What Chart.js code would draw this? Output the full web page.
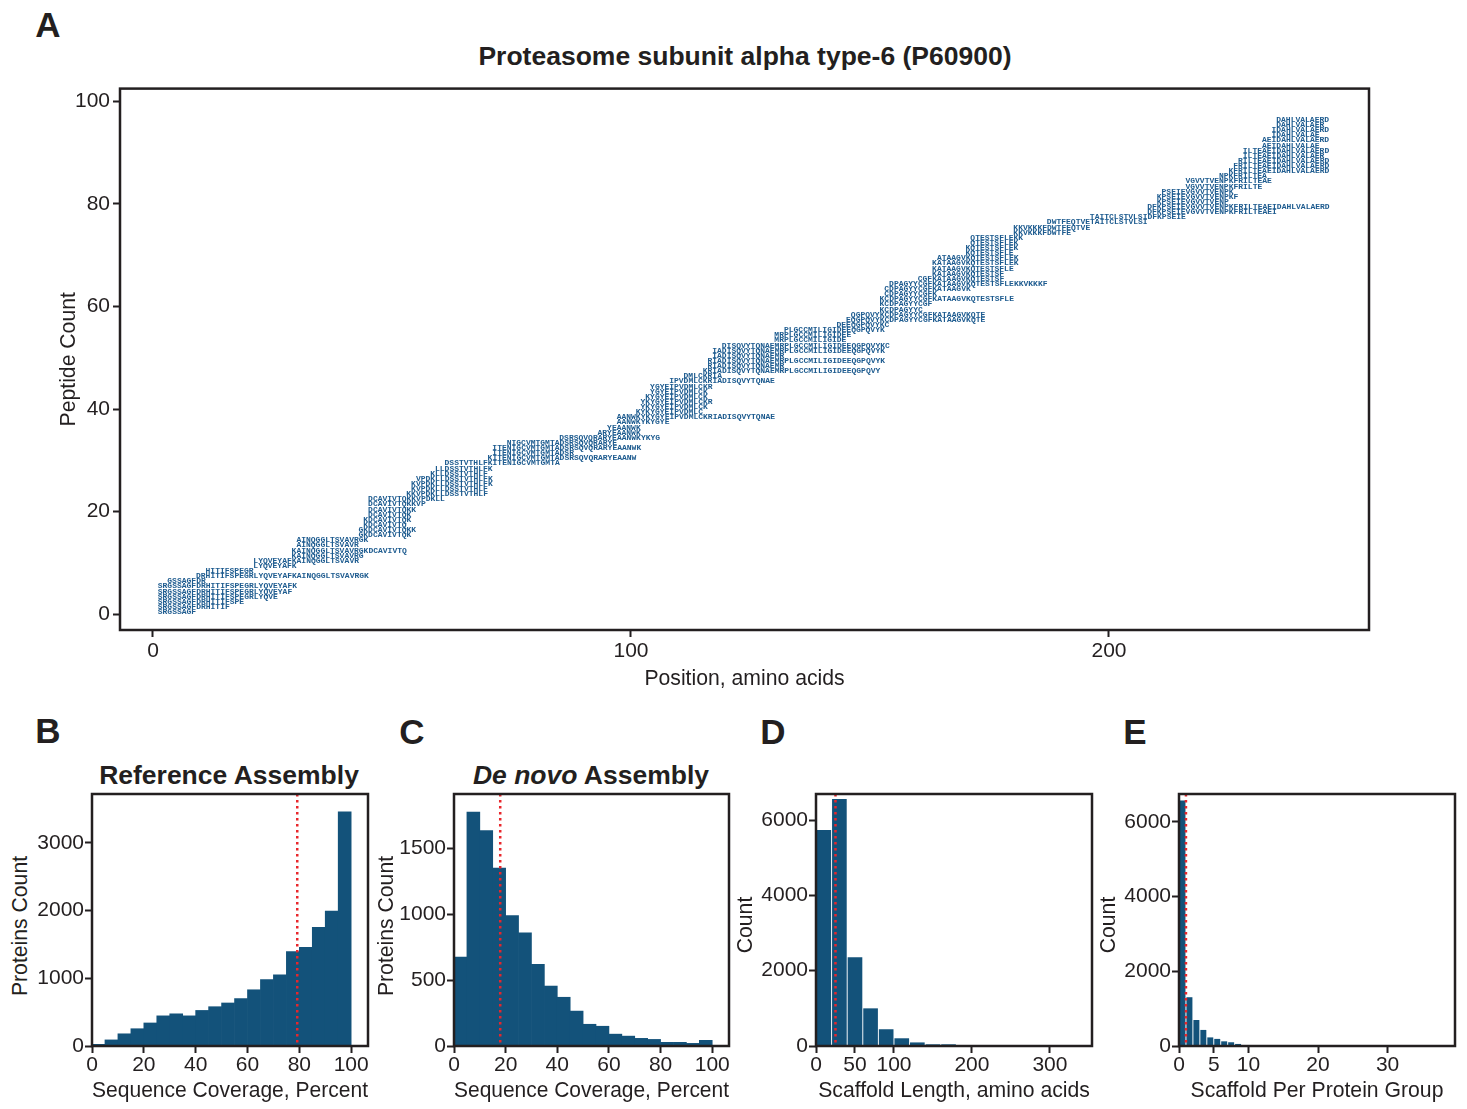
<!DOCTYPE html>
<html>
<head>
<meta charset="utf-8">
<script src="https://cdn.jsdelivr.net/npm/chart.js@4.4.1/dist/chart.umd.min.js"></script>
<style>
  html, body { margin: 0; padding: 0; background: #fff; }
  body { width: 1467px; height: 1109px; position: relative; overflow: hidden;
         font-family: 'Liberation Sans', Arial, sans-serif; color: #231f20; }
  canvas { position: absolute; }
  .lbl { position: absolute; transform: translate(-50%, -50%); white-space: nowrap; line-height: 1; }
  .letter { font-weight: bold; font-size: 35px; }
  .title { font-weight: bold; font-size: 26.5px; }
  .ytitle { position: absolute; transform: translate(-50%, -50%) rotate(-90deg); white-space: nowrap;
            line-height: 1; font-size: 21.2px; }
</style>
</head>
<body>

<div class="lbl letter" style="left:48px; top:24px;">A</div>
<div class="lbl" style="left:745px; top:56px; font-weight:bold; font-size:26.5px;">Proteasome subunit alpha type-6 (P60900)</div>
<canvas id="pileup" width="1340" height="619" style="left:56px; top:73px;"></canvas>

<div class="lbl letter" style="left:48px; top:730px;">B</div>
<div class="lbl title" style="left:229px; top:775px;">Reference Assembly</div>
<div class="ytitle" style="left:20px; top:926px;">Proteins Count</div>
<canvas id="refChart" width="368" height="325" style="left:8px; top:779px;"></canvas>

<div class="lbl letter" style="left:412px; top:731px;">C</div>
<div class="lbl title" style="left:591px; top:775px;"><i>De novo</i> Assembly</div>
<div class="ytitle" style="left:386px; top:926px;">Proteins Count</div>
<canvas id="denovoChart" width="363" height="325" style="left:374px; top:779px;"></canvas>

<div class="lbl letter" style="left:773px; top:731px;">D</div>
<div class="ytitle" style="left:745px; top:925px;">Count</div>
<canvas id="lengthChart" width="367" height="325" style="left:733px; top:779px;"></canvas>

<div class="lbl letter" style="left:1135px; top:731px;">E</div>
<div class="ytitle" style="left:1108px; top:925px;">Count</div>
<canvas id="groupChart" width="367" height="325" style="left:1096px; top:779px;"></canvas>

<script>
// ---- Panel A: peptide pileup along P60900 ----
const peptides = [
  'SRGSSAGF', 'SRGSSAGFDRHITIF', 'SRGSSAGFDRHITIFSPE', 'SRGSSAGFDRHITIFSPEGRLYQVE',
  'SRGSSAGFDRHITIFSPEGRLYQVEYAF', 'SRGSSAGFDRHITIFSPEGRLYQVEYAFK', 'GSSAGFDR',
  'DRHITIFSPEGRLYQVEYAFKAINQGGLTSVAVRGK', 'HITIFSPEGR', 'LYQVEYAFK', 'LYQVEYAFKAINQGGLTSVAVR',
  'KAINQGGLTSVAVRG', 'KAINQGGLTSVAVRGKDCAVIVTQ', 'AINQGGLTSVAVR', 'AINQGGLTSVAVRGK',
  'GKDCAVIVTQK', 'GKDCAVIVTQKK', 'KDCAVIVTQ', 'KDCAVIVTQK', 'DCAVIVTQK', 'DCAVIVTQKK',
  'DCAVIVTQKKVP', 'DCAVIVTQKKVPDKLL', 'KKVPDKLLDSSTVTHLF', 'KVPDKLLDSSTVTHLF',
  'KVPDKLLDSSTVTHLFK', 'VPDKLLDSSTVTHLFK', 'KLLDSSTVTHLF', 'LLDSSTVTHLFK',
  'DSSTVTHLFKITENIGCVMTGMTA', 'KITENIGCVMTGMTADSRSQVQRARYEAANW', 'ITENIGCVMTGMTADSR',
  'ITENIGCVMTGMTADSRSQVQRARYEAANWK', 'NIGCVMTGMTADSRSQVQRARYE', 'DSRSQVQRARYEAANWKYKYG',
  'ARYEAANWK', 'YEAANWK', 'AANWKYKYGYE', 'AANWKYKYGYEIPVDMLCKRIADISQVYTQNAE',
  'KYKYGYEIPVDMLC', 'YKYGYEIPVDMLCK', 'YKYGYEIPVDMLCKR', 'KYGYEIPVDMLCK', 'YGYEIPVDMLCK',
  'YGYEIPVDMLCKR', 'IPVDMLCKRIADISQVYTQNAE', 'DMLCKRIA',
  'KRIADISQVYTQNAEMRPLGCCMILIGIDEEQGPQVY', 'RIADISQVYTQNAEMR',
  'RIADISQVYTQNAEMRPLGCCMILIGIDEEQGPQVYK', 'IADISQVYTQNAEMR',
  'IADISQVYTQNAEMRPLGCCMILIGIDEEQGPQVYK', 'DISQVYTQNAEMRPLGCCMILIGIDEEQGPQVYKC',
  'MRPLGCCMILIGIDE', 'MRPLGCCMILIGIDEE', 'PLGCCMILIGIDEEQGPQVYK', 'DEEQGPQVYKC',
  'EQGPQVYKCDPAGYYCGFKATAAGVKQTE', 'QGPQVYKCDPAGYYCGFKATAAGVKQTE', 'KCDPAGYYC',
  'KCDPAGYYCGF', 'KCDPAGYYCGFKATAAGVKQTESTSFLE', 'CDPAGYYCGFK', 'CDPAGYYCGFKATAAGVK',
  'DPAGYYCGFKATAAGVKQTESTSFLEKKVKKKF', 'CGFKATAAGVKQTESTSF', 'KATAAGVKQTESTSF',
  'KATAAGVKQTESTSFLE', 'KATAAGVKQTESTSFLEK', 'ATAAGVKQTESTSFLEK', 'KQTESTSFLE',
  'KQTESTSFLEK', 'QTESTSFLEK', 'QTESTSFLEKK', 'KKVKKKFDWTFE', 'KKVKKKFDWTFEQTVE',
  'DWTFEQTVETAITCLSTVLSI', 'TAITCLSTVLSIDFKPSEIE', 'DFKPSEIEVGVVTVENPKFRILTEAEI',
  'DFKPSEIEVGVVTVENPKFRILTEAEIDAHLVALAERD', 'KPSEIEVGVVTVENP', 'KPSEIEVGVVTVENPKF',
  'PSEIEVGVVTVENPK', 'VGVVTVENPKFRILTE', 'VGVVTVENPKFRILTEAE', 'NPKFRILTEA',
  'KFRILTEAEIDAHLVALAERD', 'FRILTEAEIDAHLVALAERD', 'RILTEAEIDAHLVALAERD',
  'ILTEAEIDAHLVALAER', 'ILTEAEIDAHLVALAERD', 'AEIDAHLVALAE', 'AEIDAHLVALAERD',
  'IDAHLVALAE', 'IDAHLVALAERD', 'DAHLVALAER', 'DAHLVALAERD'
];
// start position (amino acid offset) of each peptide
const peptideStarts = [
  1, 1, 1, 1, 1, 1, 3, 9, 11, 21, 21, 29, 29, 30, 30, 43, 43, 44, 44, 45, 45, 45, 45,
  53, 54, 54, 55, 58, 59, 61, 70, 71, 71, 74, 85, 93, 95, 97, 97, 101, 102, 102, 103,
  104, 104, 108, 111, 115, 116, 116, 117, 117, 119, 130, 130, 132, 143, 145, 146, 152,
  152, 152, 153, 153, 154, 160, 163, 163, 163, 164, 170, 170, 171, 171, 180, 180, 187,
  196, 208, 208, 210, 210, 211, 216, 216, 223, 225, 226, 227, 228, 228, 232, 232, 234,
  234, 235, 235
];
const pileupTicksX = [0, 100, 200];
const pileupTicksY = [0, 20, 40, 60, 80, 100];

// ---- Panel B: reference assembly coverage histogram ----
const refBinStarts = [0, 5, 10, 15, 20, 25, 30, 35, 40, 45, 50, 55, 60, 65, 70, 75, 80, 85, 90, 95];
const refCounts = [25, 90, 180, 255, 340, 445, 475, 445, 525, 580, 635, 700, 830, 980, 1050, 1395, 1455, 1750, 1990, 3455];
const refMedian = 79.2;
const refTicksX = [0, 20, 40, 60, 80, 100];
const refTicksY = [0, 1000, 2000, 3000];

// ---- Panel C: de novo assembly coverage histogram ----
const denovoBinStarts = [0, 5, 10, 15, 20, 25, 30, 35, 40, 45, 50, 55, 60, 65, 70, 75, 80, 85, 90, 95];
const denovoCounts = [675, 1775, 1635, 1350, 990, 860, 620, 455, 370, 265, 165, 150, 90, 75, 58, 50, 28, 28, 20, 43];
const denovoMedian = 17.9;
const denovoTicksX = [0, 20, 40, 60, 80, 100];
const denovoTicksY = [0, 500, 1000, 1500];

// ---- Panel D: scaffold length histogram ----
const lengthBinStarts = [0, 20, 40, 60, 80, 100, 120, 140, 160, 180, 200, 220, 240, 260, 280, 300, 320, 340];
const lengthCounts = [5735, 6560, 2355, 1000, 445, 205, 95, 45, 45, 12, 8, 5, 4, 3, 2, 2, 1, 1];
const lengthMedian = 25;
const lengthTicksX = [0, 50, 100, 200, 300];
const lengthTicksY = [0, 2000, 4000, 6000];

// ---- Panel E: scaffolds per protein group histogram ----
const groupBinStarts = [0, 1, 2, 3, 4, 5, 6, 7, 8, 9, 10, 11, 12, 13, 14];
const groupCounts = [6565, 1305, 695, 430, 230, 190, 125, 100, 55, 27, 10, 6, 4, 3, 2];
const groupMedian = 1;
const groupTicksX = [0, 5, 10, 20, 30];
const groupTicksY = [0, 2000, 4000, 6000];

const INK = '#231f20';
const BAR = '#13527a';
const PEP = '#1d5b8f';
const RED = '#e8262b';
const FONT = "'Liberation Sans', Arial, sans-serif";

// full frame around the plot area
const boxPlugin = {
  id: 'frame',
  afterDraw(chart) {
    const { ctx, chartArea: a } = chart;
    ctx.save();
    ctx.strokeStyle = INK;
    ctx.lineWidth = 2.5;
    ctx.strokeRect(a.left, a.top, a.right - a.left, a.bottom - a.top);
    ctx.restore();
  }
};

// red dotted median marker
const medianPlugin = {
  id: 'medianLine',
  afterDatasetsDraw(chart, args, opts) {
    if (opts.value == null) return;
    const x = chart.scales.x.getPixelForValue(opts.value);
    const { ctx, chartArea: a } = chart;
    ctx.save();
    ctx.strokeStyle = RED;
    ctx.lineWidth = 2.5;
    ctx.setLineDash([2.5, 3.5]);
    ctx.beginPath();
    ctx.moveTo(x, a.top);
    ctx.lineTo(x, a.bottom);
    ctx.stroke();
    ctx.restore();
  }
};

// peptide sequences written at their (start, count) points
const peptidePlugin = {
  id: 'peptideLabels',
  afterDatasetsDraw(chart) {
    const meta = chart.getDatasetMeta(0);
    const ctx = chart.ctx;
    ctx.save();
    ctx.font = "bold 8px 'Liberation Mono', 'DejaVu Sans Mono', monospace";
    ctx.fillStyle = PEP;
    ctx.textAlign = 'left';
    ctx.textBaseline = 'alphabetic';
    meta.data.forEach((pt, i) => ctx.fillText(peptides[i], pt.x, pt.y));
    ctx.restore();
  }
};

function axis(o) {
  return {
    type: 'linear',
    min: o.min,
    max: o.max,
    offset: false,
    afterBuildTicks: s => { s.ticks = o.ticks.map(v => ({ value: v })); },
    afterFit: s => {
      if (o.width) s.width = o.width;
      if (o.height) s.height = o.height;
    },
    grid: { drawOnChartArea: false, drawTicks: true, tickLength: 7, tickWidth: 2, tickColor: INK, offset: false },
    border: { display: false },
    ticks: {
      color: INK, font: { family: FONT, size: 21 }, padding: o.pad,
      maxRotation: 0, autoSkip: false, callback: v => String(v)
    },
    title: { display: !!o.title, text: o.title || '', color: INK, font: { family: FONT, size: 21.2 }, padding: 0 }
  };
}

// Panel A
new Chart(document.getElementById('pileup'), {
  type: 'scatter',
  data: {
    datasets: [{
      data: peptides.map((p, i) => ({ x: peptideStarts[i], y: i })),
      pointRadius: 0,
      pointHoverRadius: 0
    }]
  },
  options: {
    responsive: false,
    animation: false,
    events: [],
    layout: { padding: { left: 0, top: 15, right: 27, bottom: 0 } },
    plugins: { legend: { display: false }, tooltip: { enabled: false } },
    scales: {
      x: axis({ min: -6.9, max: 254.4, ticks: pileupTicksX, height: 62, pad: 2, title: 'Position, amino acids' }),
      y: axis({ min: -3.1, max: 102.5, ticks: pileupTicksY, width: 64, pad: 3, title: 'Peptide Count' })
    }
  },
  plugins: [peptidePlugin, boxPlugin]
});

// y-axis titles of the lower panels are page text (placed above)
function histogram(id, binStarts, binWidth, counts, median, cfg) {
  return new Chart(document.getElementById(id), {
    type: 'bar',
    data: {
      datasets: [{
        data: binStarts.map((b, i) => ({ x: b + binWidth / 2, y: counts[i] })),
        backgroundColor: BAR,
        borderWidth: 0,
        barPercentage: cfg.barPercentage || 1,
        categoryPercentage: 1
      }]
    },
    options: {
      responsive: false,
      animation: false,
      events: [],
      layout: { padding: { left: 0, top: 15, right: 8, bottom: 0 } },
      plugins: { legend: { display: false }, tooltip: { enabled: false }, medianLine: { value: median } },
      scales: {
        x: axis({ min: 0, max: cfg.xMax, ticks: cfg.ticksX, height: 58, pad: 0, title: cfg.xTitle }),
        y: axis({ min: 0, max: cfg.yMax, ticks: cfg.ticksY, width: cfg.yWidth, pad: 1 })
      }
    },
    plugins: [medianPlugin, boxPlugin]
  });
}

histogram('refChart', refBinStarts, 5, refCounts, refMedian, {
  xMax: 106.5, yMax: 3720, ticksX: refTicksX, ticksY: refTicksY, yWidth: 84,
  xTitle: 'Sequence Coverage, Percent'
});
histogram('denovoChart', denovoBinStarts, 5, denovoCounts, denovoMedian, {
  xMax: 106.5, yMax: 1913, ticksX: denovoTicksX, ticksY: denovoTicksY, yWidth: 80,
  xTitle: 'Sequence Coverage, Percent'
});
histogram('lengthChart', lengthBinStarts, 20, lengthCounts, lengthMedian, {
  xMax: 354, yMax: 6693, ticksX: lengthTicksX, ticksY: lengthTicksY, yWidth: 83,
  xTitle: 'Scaffold Length, amino acids', barPercentage: 0.94
});
histogram('groupChart', groupBinStarts, 1, groupCounts, groupMedian, {
  xMax: 39.7, yMax: 6742, ticksX: groupTicksX, ticksY: groupTicksY, yWidth: 83,
  xTitle: 'Scaffold Per Protein Group', barPercentage: 0.86
});
</script>
</body>
</html>
